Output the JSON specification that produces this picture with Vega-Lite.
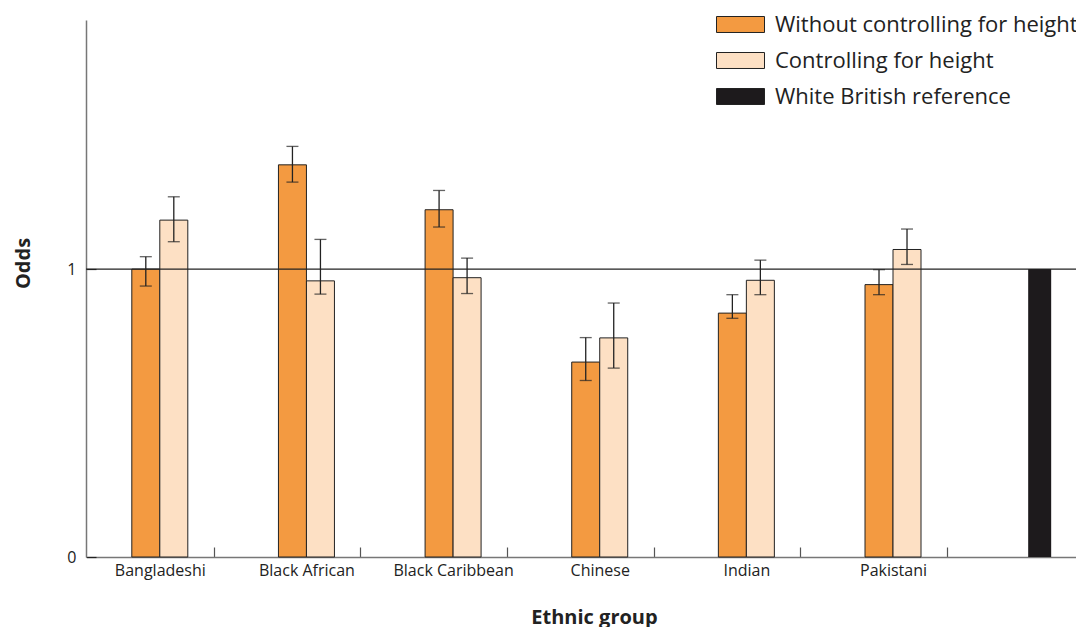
{
  "$schema": "https://vega.github.io/schema/vega-lite/v6.json",
  "width": 990,
  "height": 537,
  "autosize": {"type": "none"},
  "padding": {"left": 86, "top": 20, "right": 0, "bottom": 70},
  "background": "white",
  "config": {"view": {"stroke": null}, "font": "Open Sans"},
  "datasets": {
    "odds": [
      {"group": "Bangladeshi", "series": "Without controlling for height", "odds": 1.00, "lo": 0.941, "hi": 1.043},
      {"group": "Bangladeshi", "series": "Controlling for height", "odds": 1.170, "lo": 1.095, "hi": 1.251},
      {"group": "Black African", "series": "Without controlling for height", "odds": 1.362, "lo": 1.302, "hi": 1.426},
      {"group": "Black African", "series": "Controlling for height", "odds": 0.959, "lo": 0.913, "hi": 1.103},
      {"group": "Black Caribbean", "series": "Without controlling for height", "odds": 1.206, "lo": 1.146, "hi": 1.273},
      {"group": "Black Caribbean", "series": "Controlling for height", "odds": 0.970, "lo": 0.915, "hi": 1.038},
      {"group": "Chinese", "series": "Without controlling for height", "odds": 0.677, "lo": 0.613, "hi": 0.762},
      {"group": "Chinese", "series": "Controlling for height", "odds": 0.761, "lo": 0.656, "hi": 0.882},
      {"group": "Indian", "series": "Without controlling for height", "odds": 0.847, "lo": 0.829, "hi": 0.911},
      {"group": "Indian", "series": "Controlling for height", "odds": 0.961, "lo": 0.911, "hi": 1.031},
      {"group": "Pakistani", "series": "Without controlling for height", "odds": 0.946, "lo": 0.911, "hi": 0.998},
      {"group": "Pakistani", "series": "Controlling for height", "odds": 1.068, "lo": 1.016, "hi": 1.139},
      {"group": "White British", "series": "White British reference", "odds": 1.0, "lo": null, "hi": null}
    ],
    "ref": [{"ref": 1}]
  },
  "data": {"name": "odds"},
  "layer": [
    {
      "transform": [{"filter": "datum.series !== 'White British reference'"}],
      "mark": {"type": "bar", "stroke": "#222222", "strokeWidth": 1},
      "encoding": {
        "x": {
          "field": "group", "type": "nominal",
          "sort": ["Bangladeshi", "Black African", "Black Caribbean", "Chinese", "Indian", "Pakistani", "White British"],
          "scale": {"range": [0.5, 1027], "paddingInner": 0, "paddingOuter": 0},
          "axis": {
            "title": "Ethnic group", "titleFont": "Open Sans", "titleFontWeight": "bold", "titleFontSize": 20, "titleColor": "#222222",
            "titleX": 508, "titleY": 66, "titleBaseline": "alphabetic", "titleAlign": "center",
            "labelFont": "Open Sans", "labelFontSize": 16, "labelColor": "#222222", "labelAngle": 0,
            "labelExpr": "datum.value === 'White British' ? '' : datum.label",
            "labelPadding": 15,
            "domainColor": "#777777", "domainWidth": 1.5,
            "tickColor": "#555555",
            "tickSize": -10, "tickWidth": 1.2, "tickOffset": 54, "labelOffset": -54
          }
        },
        "xOffset": {
          "field": "series", "type": "nominal",
          "sort": ["Without controlling for height", "Controlling for height"],
          "scale": {"range": [45.3, 101.3]}
        },
        "y": {
          "field": "odds", "type": "quantitative",
          "scale": {"domain": [0, 1.865], "nice": false},
          "axis": {
            "values": [0, 1], "format": "d", "title": "Odds", "titleFont": "Open Sans", "titleFontWeight": "bold", "titleFontSize": 20, "titleColor": "#222222",
            "titleX": -63, "titleY": 243, "titleAngle": -90, "titleBaseline": "middle", "titleAlign": "center",
            "labelFont": "Open Sans", "labelFontSize": 16, "labelColor": "#222222", "labelPadding": 20,
            "domainColor": "#777777", "domainWidth": 1.5, "tickColor": "#222222", "tickSize": -10, "tickWidth": 1.2, "grid": false
          }
        },
        "color": {
          "field": "series", "type": "nominal",
          "scale": {
            "domain": ["Without controlling for height", "Controlling for height", "White British reference"],
            "range": ["#F39A41", "#FDE0C4", "#1D1A1C"]
          },
          "legend": {
            "title": null, "orient": "none", "legendX": 630, "legendY": -20, "padding": 0,
            "symbolType": "M-1,-0.333H1V0.333H-1Z", "symbolSize": 2304, "symbolStrokeColor": "#222222", "symbolStrokeWidth": 1,
            "labelFont": "Open Sans", "labelFontSize": 22, "labelColor": "#222222", "labelOffset": 10, "rowPadding": -7, "labelLimit": 0
          }
        }
      }
    },
    {
      "transform": [{"filter": "datum.series === 'White British reference'"}],
      "mark": {"type": "bar", "width": 23},
      "encoding": {
        "x": {"field": "group", "type": "nominal", "sort": ["Bangladeshi", "Black African", "Black Caribbean", "Chinese", "Indian", "Pakistani", "White British"]},
        "y": {"field": "odds", "type": "quantitative"},
        "color": {"field": "series", "type": "nominal"}
      }
    },
    {
      "data": {"name": "ref"},
      "mark": {"type": "rule", "color": "#222222", "strokeWidth": 1.2},
      "encoding": {"y": {"field": "ref", "type": "quantitative"}}
    },
    {
      "transform": [{"filter": "datum.series !== 'White British reference'"}],
      "mark": {"type": "rule", "color": "#222222", "strokeWidth": 1.3},
      "encoding": {
        "x": {"field": "group", "type": "nominal", "sort": ["Bangladeshi", "Black African", "Black Caribbean", "Chinese", "Indian", "Pakistani", "White British"]},
        "xOffset": {"field": "series", "type": "nominal", "sort": ["Without controlling for height", "Controlling for height"]},
        "y": {"field": "lo", "type": "quantitative"},
        "y2": {"field": "hi"}
      }
    },
    {
      "transform": [{"filter": "datum.series !== 'White British reference'"}],
      "mark": {"type": "tick", "color": "#222222", "size": 12, "thickness": 1.3},
      "encoding": {
        "x": {"field": "group", "type": "nominal", "sort": ["Bangladeshi", "Black African", "Black Caribbean", "Chinese", "Indian", "Pakistani", "White British"]},
        "xOffset": {"field": "series", "type": "nominal", "sort": ["Without controlling for height", "Controlling for height"]},
        "y": {"field": "lo", "type": "quantitative"}
      }
    },
    {
      "transform": [{"filter": "datum.series !== 'White British reference'"}],
      "mark": {"type": "tick", "color": "#222222", "size": 12, "thickness": 1.3},
      "encoding": {
        "x": {"field": "group", "type": "nominal", "sort": ["Bangladeshi", "Black African", "Black Caribbean", "Chinese", "Indian", "Pakistani", "White British"]},
        "xOffset": {"field": "series", "type": "nominal", "sort": ["Without controlling for height", "Controlling for height"]},
        "y": {"field": "hi", "type": "quantitative"}
      }
    }
  ]
}
